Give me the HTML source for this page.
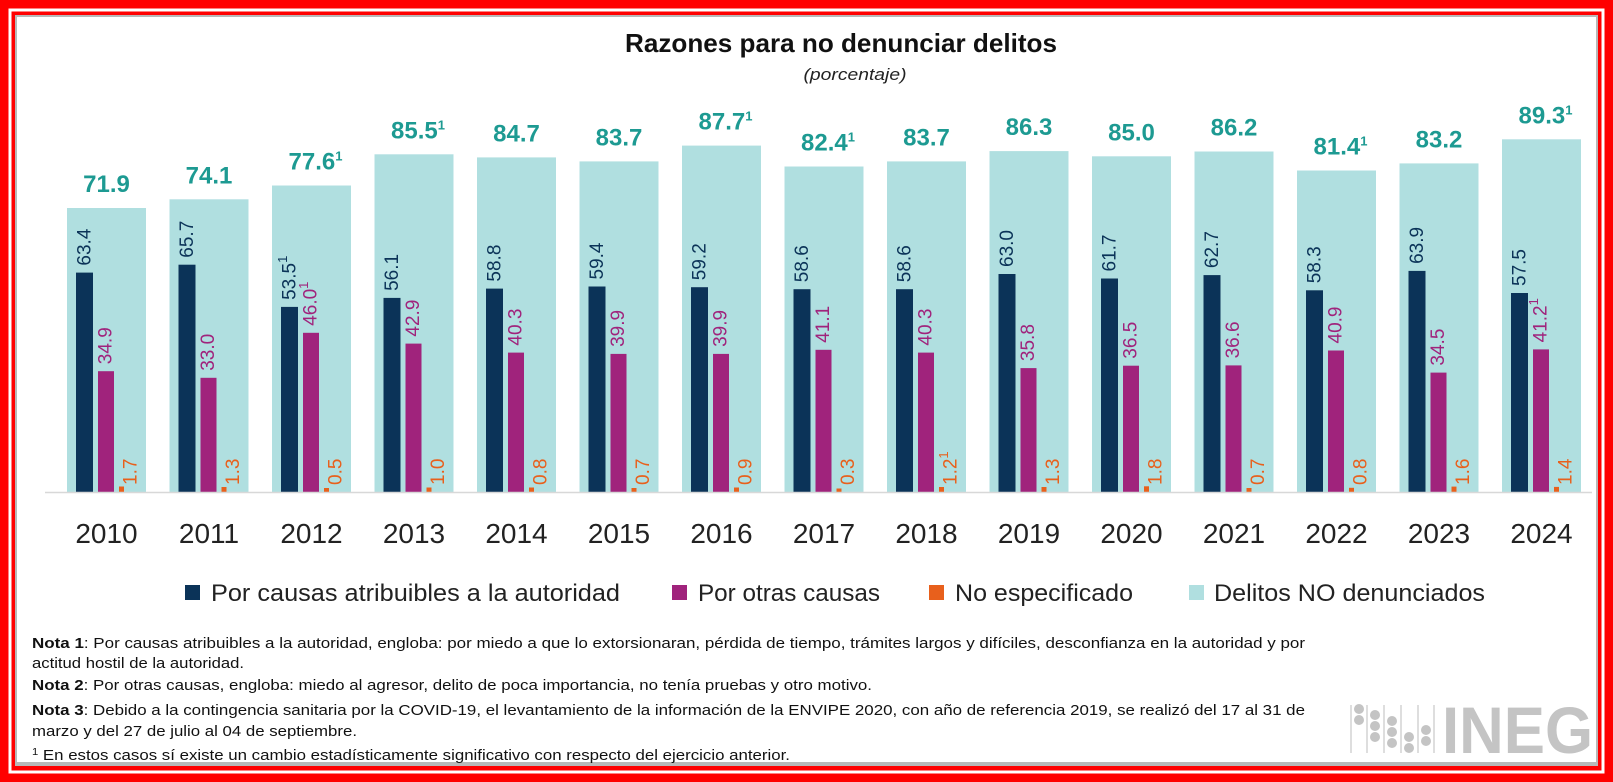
<!DOCTYPE html>
<html><head><meta charset="utf-8"><style>
html,body{margin:0;padding:0;background:#fff}
svg{display:block}
.l{fill:#b0dfe0}.d{fill:#0b3358}.p{fill:#a0237c}.o{fill:#e8601c}
.tl{font-size:24px;font-weight:bold;fill:#1d9a92;text-anchor:middle}
.r{font-size:19px;dominant-baseline:central}
.rd{fill:#0b3358}.rp{fill:#a0237c}.ro{fill:#e8601c}
.y{font-size:28px;fill:#222;text-anchor:middle}
</style></head><body>
<svg width="1613" height="782" viewBox="0 0 1613 782" xmlns="http://www.w3.org/2000/svg" font-family="Liberation Sans, sans-serif">
<rect x="0" y="0" width="1613" height="782" fill="#ff0000"/>
<rect x="10" y="10" width="1593" height="762" fill="none" stroke="#fff" stroke-width="3"/>
<rect x="15" y="15" width="1583" height="751" fill="#b8b8b8"/>
<rect x="17" y="17" width="1579" height="745" fill="#fff"/>
<text x="841" y="52" text-anchor="middle" font-size="26" font-weight="bold" fill="#111" textLength="432" lengthAdjust="spacingAndGlyphs">Razones para no denunciar delitos</text>
<text x="855" y="80" text-anchor="middle" font-size="17" font-style="italic" fill="#222" textLength="103" lengthAdjust="spacingAndGlyphs">(porcentaje)</text>

<g transform="translate(67,0)"><rect class="l" y="208" width="79" height="284"/><rect class="d" x="9" y="272.6" width="17" height="219.4"/><rect class="p" x="31" y="371.2" width="16" height="120.8"/><rect class="o" x="52" y="486.5" width="5" height="5.5"/><text class="tl" x="39.5" y="192">71.9</text><text class="r rd" transform="translate(18,265.6) rotate(-90)">63.4</text><text class="r rp" transform="translate(39,364.2) rotate(-90)">34.9</text><text class="r ro" transform="translate(64,485) rotate(-90)">1.7</text><text class="y" x="39.5" y="543">2010</text></g>

<g transform="translate(169.5,0)"><rect class="l" y="199.3" width="79" height="292.7"/><rect class="d" x="9" y="264.7" width="17" height="227.3"/><rect class="p" x="31" y="377.8" width="16" height="114.2"/><rect class="o" x="52" y="487" width="5" height="5"/><text class="tl" x="39.5" y="183.3">74.1</text><text class="r rd" transform="translate(18,257.7) rotate(-90)">65.7</text><text class="r rp" transform="translate(39,370.8) rotate(-90)">33.0</text><text class="r ro" transform="translate(64,485) rotate(-90)">1.3</text><text class="y" x="39.5" y="543">2011</text></g>

<g transform="translate(272,0)"><rect class="l" y="185.5" width="79" height="306.5"/><rect class="d" x="9" y="306.9" width="17" height="185.1"/><rect class="p" x="31" y="332.8" width="16" height="159.2"/><rect class="o" x="52" y="488" width="5" height="4"/><text class="tl" x="43.5" y="169.5">77.6<tspan font-size="13" dy="-9">1</tspan></text><text class="r rd" transform="translate(18,299.9) rotate(-90)">53.5<tspan font-size="13" dy="-8">1</tspan></text><text class="r rp" transform="translate(39,325.8) rotate(-90)">46.0<tspan font-size="13" dy="-8">1</tspan></text><text class="r ro" transform="translate(64,485) rotate(-90)">0.5</text><text class="y" x="39.5" y="543">2012</text></g>

<g transform="translate(374.5,0)"><rect class="l" y="154.3" width="79" height="337.7"/><rect class="d" x="9" y="297.9" width="17" height="194.1"/><rect class="p" x="31" y="343.6" width="16" height="148.4"/><rect class="o" x="52" y="487.5" width="5" height="4.5"/><text class="tl" x="43.5" y="138.3">85.5<tspan font-size="13" dy="-9">1</tspan></text><text class="r rd" transform="translate(18,290.9) rotate(-90)">56.1</text><text class="r rp" transform="translate(39,336.6) rotate(-90)">42.9</text><text class="r ro" transform="translate(64,485) rotate(-90)">1.0</text><text class="y" x="39.5" y="543">2013</text></g>

<g transform="translate(477,0)"><rect class="l" y="157.4" width="79" height="334.6"/><rect class="d" x="9" y="288.6" width="17" height="203.4"/><rect class="p" x="31" y="352.6" width="16" height="139.4"/><rect class="o" x="52" y="487.5" width="5" height="4.5"/><text class="tl" x="39.5" y="141.4">84.7</text><text class="r rd" transform="translate(18,281.6) rotate(-90)">58.8</text><text class="r rp" transform="translate(39,345.6) rotate(-90)">40.3</text><text class="r ro" transform="translate(64,485) rotate(-90)">0.8</text><text class="y" x="39.5" y="543">2014</text></g>

<g transform="translate(579.5,0)"><rect class="l" y="161.4" width="79" height="330.6"/><rect class="d" x="9" y="286.5" width="17" height="205.5"/><rect class="p" x="31" y="353.9" width="16" height="138.1"/><rect class="o" x="52" y="488" width="5" height="4"/><text class="tl" x="39.5" y="145.4">83.7</text><text class="r rd" transform="translate(18,279.5) rotate(-90)">59.4</text><text class="r rp" transform="translate(39,346.9) rotate(-90)">39.9</text><text class="r ro" transform="translate(64,485) rotate(-90)">0.7</text><text class="y" x="39.5" y="543">2015</text></g>

<g transform="translate(682,0)"><rect class="l" y="145.6" width="79" height="346.4"/><rect class="d" x="9" y="287.2" width="17" height="204.8"/><rect class="p" x="31" y="353.9" width="16" height="138.1"/><rect class="o" x="52" y="487.5" width="5" height="4.5"/><text class="tl" x="43.5" y="129.6">87.7<tspan font-size="13" dy="-9">1</tspan></text><text class="r rd" transform="translate(18,280.2) rotate(-90)">59.2</text><text class="r rp" transform="translate(39,346.9) rotate(-90)">39.9</text><text class="r ro" transform="translate(64,485) rotate(-90)">0.9</text><text class="y" x="39.5" y="543">2016</text></g>

<g transform="translate(784.5,0)"><rect class="l" y="166.5" width="79" height="325.5"/><rect class="d" x="9" y="289.2" width="17" height="202.8"/><rect class="p" x="31" y="349.8" width="16" height="142.2"/><rect class="o" x="52" y="488.5" width="5" height="3.5"/><text class="tl" x="43.5" y="150.5">82.4<tspan font-size="13" dy="-9">1</tspan></text><text class="r rd" transform="translate(18,282.2) rotate(-90)">58.6</text><text class="r rp" transform="translate(39,342.8) rotate(-90)">41.1</text><text class="r ro" transform="translate(64,485) rotate(-90)">0.3</text><text class="y" x="39.5" y="543">2017</text></g>

<g transform="translate(887,0)"><rect class="l" y="161.4" width="79" height="330.6"/><rect class="d" x="9" y="289.2" width="17" height="202.8"/><rect class="p" x="31" y="352.6" width="16" height="139.4"/><rect class="o" x="52" y="487" width="5" height="5"/><text class="tl" x="39.5" y="145.4">83.7</text><text class="r rd" transform="translate(18,282.2) rotate(-90)">58.6</text><text class="r rp" transform="translate(39,345.6) rotate(-90)">40.3</text><text class="r ro" transform="translate(64,485) rotate(-90)">1.2<tspan font-size="13" dy="-8">1</tspan></text><text class="y" x="39.5" y="543">2018</text></g>

<g transform="translate(989.5,0)"><rect class="l" y="151.1" width="79" height="340.9"/><rect class="d" x="9" y="274" width="17" height="218"/><rect class="p" x="31" y="368.1" width="16" height="123.9"/><rect class="o" x="52" y="487" width="5" height="5"/><text class="tl" x="39.5" y="135.1">86.3</text><text class="r rd" transform="translate(18,267) rotate(-90)">63.0</text><text class="r rp" transform="translate(39,361.1) rotate(-90)">35.8</text><text class="r ro" transform="translate(64,485) rotate(-90)">1.3</text><text class="y" x="39.5" y="543">2019</text></g>

<g transform="translate(1092,0)"><rect class="l" y="156.3" width="79" height="335.7"/><rect class="d" x="9" y="278.5" width="17" height="213.5"/><rect class="p" x="31" y="365.7" width="16" height="126.3"/><rect class="o" x="52" y="486.3" width="5" height="5.7"/><text class="tl" x="39.5" y="140.3">85.0</text><text class="r rd" transform="translate(18,271.5) rotate(-90)">61.7</text><text class="r rp" transform="translate(39,358.7) rotate(-90)">36.5</text><text class="r ro" transform="translate(64,485) rotate(-90)">1.8</text><text class="y" x="39.5" y="543">2020</text></g>

<g transform="translate(1194.5,0)"><rect class="l" y="151.5" width="79" height="340.5"/><rect class="d" x="9" y="275.1" width="17" height="216.9"/><rect class="p" x="31" y="365.4" width="16" height="126.6"/><rect class="o" x="52" y="488" width="5" height="4"/><text class="tl" x="39.5" y="135.5">86.2</text><text class="r rd" transform="translate(18,268.1) rotate(-90)">62.7</text><text class="r rp" transform="translate(39,358.4) rotate(-90)">36.6</text><text class="r ro" transform="translate(64,485) rotate(-90)">0.7</text><text class="y" x="39.5" y="543">2021</text></g>

<g transform="translate(1297,0)"><rect class="l" y="170.5" width="79" height="321.5"/><rect class="d" x="9" y="290.3" width="17" height="201.7"/><rect class="p" x="31" y="350.5" width="16" height="141.5"/><rect class="o" x="52" y="487.8" width="5" height="4.2"/><text class="tl" x="43.5" y="154.5">81.4<tspan font-size="13" dy="-9">1</tspan></text><text class="r rd" transform="translate(18,283.3) rotate(-90)">58.3</text><text class="r rp" transform="translate(39,343.5) rotate(-90)">40.9</text><text class="r ro" transform="translate(64,485) rotate(-90)">0.8</text><text class="y" x="39.5" y="543">2022</text></g>

<g transform="translate(1399.5,0)"><rect class="l" y="163.4" width="79" height="328.6"/><rect class="d" x="9" y="270.9" width="17" height="221.1"/><rect class="p" x="31" y="372.6" width="16" height="119.4"/><rect class="o" x="52" y="486.6" width="5" height="5.4"/><text class="tl" x="39.5" y="147.4">83.2</text><text class="r rd" transform="translate(18,263.9) rotate(-90)">63.9</text><text class="r rp" transform="translate(39,365.6) rotate(-90)">34.5</text><text class="r ro" transform="translate(64,485) rotate(-90)">1.6</text><text class="y" x="39.5" y="543">2023</text></g>

<g transform="translate(1502,0)"><rect class="l" y="139.3" width="79" height="352.7"/><rect class="d" x="9" y="293" width="17" height="199"/><rect class="p" x="31" y="349.4" width="16" height="142.6"/><rect class="o" x="52" y="486.9" width="5" height="5.1"/><text class="tl" x="43.5" y="123.3">89.3<tspan font-size="13" dy="-9">1</tspan></text><text class="r rd" transform="translate(18,286) rotate(-90)">57.5</text><text class="r rp" transform="translate(39,342.4) rotate(-90)">41.2<tspan font-size="13" dy="-8">1</tspan></text><text class="r ro" transform="translate(64,485) rotate(-90)">1.4</text><text class="y" x="39.5" y="543">2024</text></g>

<line x1="45" y1="492.5" x2="1592" y2="492.5" stroke="#d8d8d8" stroke-width="1.5"/>

<g fill="#222">
<rect x="185" y="585" width="15" height="15" fill="#0b3358"/>
<text x="211" y="601" font-size="24" textLength="409" lengthAdjust="spacingAndGlyphs">Por causas atribuibles a la autoridad</text>
<rect x="672" y="585" width="15" height="15" fill="#a0237c"/>
<text x="698" y="601" font-size="24" textLength="182" lengthAdjust="spacingAndGlyphs">Por otras causas</text>
<rect x="929" y="585" width="15" height="15" fill="#e8601c"/>
<text x="955" y="601" font-size="24" textLength="178" lengthAdjust="spacingAndGlyphs">No especificado</text>
<rect x="1189" y="585" width="15" height="15" fill="#b0dfe0"/>
<text x="1214" y="601" font-size="24" textLength="271" lengthAdjust="spacingAndGlyphs">Delitos NO denunciados</text>
</g>
<g font-size="15" fill="#111">
<text x="32" y="648" textLength="1273" lengthAdjust="spacingAndGlyphs"><tspan font-weight="bold">Nota 1</tspan>: Por causas atribuibles a la autoridad, engloba: por miedo a que lo extorsionaran, pérdida de tiempo, trámites largos y difíciles, desconfianza en la autoridad y por</text>
<text x="32" y="668" textLength="212" lengthAdjust="spacingAndGlyphs">actitud hostil de la autoridad.</text>
<text x="32" y="690" textLength="840" lengthAdjust="spacingAndGlyphs"><tspan font-weight="bold">Nota 2</tspan>: Por otras causas, engloba: miedo al agresor, delito de poca importancia, no tenía pruebas y otro motivo.</text>
<text x="32" y="715" textLength="1273" lengthAdjust="spacingAndGlyphs"><tspan font-weight="bold">Nota 3</tspan>: Debido a la contingencia sanitaria por la COVID-19, el levantamiento de la información de la ENVIPE 2020, con año de referencia 2019, se realizó del 17 al 31 de</text>
<text x="32" y="736" textLength="325" lengthAdjust="spacingAndGlyphs">marzo y del 27 de julio al 04 de septiembre.</text>
<text x="32" y="760" textLength="758" lengthAdjust="spacingAndGlyphs"><tspan font-size="10" dy="-5">1</tspan><tspan dy="5"> En estos casos sí existe un cambio estadísticamente significativo con respecto del ejercicio anterior.</tspan></text>
</g>
<g fill="#c4c4c4">
<g stroke="#c8c8c8" stroke-width="1.2"><line x1="1351" y1="705" x2="1351" y2="753"/><line x1="1367" y1="705" x2="1367" y2="753"/><line x1="1384" y1="705" x2="1384" y2="753"/><line x1="1401" y1="705" x2="1401" y2="753"/><line x1="1418" y1="705" x2="1418" y2="753"/><line x1="1434" y1="705" x2="1434" y2="753"/></g>
<circle cx="1359" cy="709" r="5"/><circle cx="1359" cy="720" r="5"/>
<circle cx="1375" cy="715" r="5"/><circle cx="1375" cy="726" r="5"/><circle cx="1375" cy="737" r="5"/>
<circle cx="1392" cy="721" r="5"/><circle cx="1392" cy="732" r="5"/><circle cx="1392" cy="743" r="5"/>
<circle cx="1409" cy="737" r="5"/><circle cx="1409" cy="748" r="5"/>
<circle cx="1426" cy="730" r="5"/><circle cx="1426" cy="741" r="5"/>
<text x="1442" y="753" font-size="66" font-weight="bold" textLength="151" lengthAdjust="spacingAndGlyphs">INEG</text>
</g>
</svg>
</body></html>
